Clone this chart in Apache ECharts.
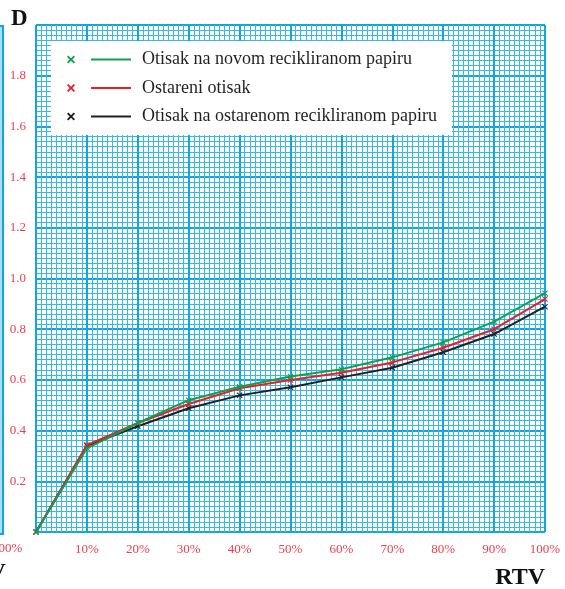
<!DOCTYPE html>
<html>
<head>
<meta charset="utf-8">
<script src="https://cdn.jsdelivr.net/npm/echarts@6/dist/echarts.min.js"></script>
<style>
html,body{margin:0;padding:0;background:#fff;}
#chart{width:565px;height:589px;}
</style>
</head>
<body>
<div id="chart"></div>
<script>
// RTV (%) categories
const rtv = [0, 10, 20, 30, 40, 50, 60, 70, 80, 90, 100];
// Optical density D
const novomReciklirani = [0, 0.33, 0.43, 0.52, 0.573, 0.613, 0.642, 0.689, 0.748, 0.830, 0.942];
const ostareniOtisak   = [0, 0.343, 0.43, 0.505, 0.567, 0.600, 0.628, 0.669, 0.727, 0.800, 0.919];
const ostarenReciklirani = [0, 0.34, 0.417, 0.488, 0.539, 0.571, 0.610, 0.648, 0.709, 0.781, 0.889];
const seriesNames = ['Otisak na novom recikliranom papiru', 'Ostareni otisak', 'Otisak na ostarenom recikliranom papiru'];

const pair = (ys) => rtv.map((x, i) => [x, ys[i]]);
const xMark = 'path://M0,1 L1,0 L4,3 L7,0 L8,1 L5,4 L8,7 L7,8 L4,5 L1,8 L0,7 L3,4 Z';
const legendIcon = 'path://M0,1.3 L1.3,0 L4,2.7 L6.7,0 L8,1.3 L5.3,4 L8,6.7 L6.7,8 L4,5.3 L1.3,8 L0,6.7 L2.7,4 Z M24,3.1 L64,3.1 L64,4.9 L24,4.9 Z';

const serif = '"Liberation Serif", "Times New Roman", serif';
const labelRed = '#e8414c';
const major = '#10a6e2';
const minor = '#38b7eb';

const chart = echarts.init(document.getElementById('chart'), null, {renderer: 'canvas'});
chart.setOption({
  animation: false,
  backgroundColor: '#fff',
  title: [
    {text: 'D', left: 6, top: 3, textStyle: {fontFamily: serif, fontSize: 23, fontWeight: 'bold', color: '#111'}},
    {text: 'RTV', right: 15, top: 561, textStyle: {fontFamily: serif, fontSize: 24, fontWeight: 'bold', color: '#111'}}
  ],
  grid: {left: 36, right: 20, top: 25, bottom: 57, containLabel: false},
  legend: {
    orient: 'vertical',
    left: 51, top: 41,
    backgroundColor: '#fff',
    padding: [8.5, 15, 8.5, 16],
    itemGap: 8.5,
    itemWidth: 64, itemHeight: 8,
    icon: legendIcon,
    itemStyle: {borderWidth: 0},
    data: seriesNames,
    textStyle: {fontFamily: serif, fontSize: 18, color: '#231f20', lineHeight: 20, padding: [0, 0, 0, 6]}
  },
  xAxis: {
    type: 'value', min: 0, max: 100, interval: 10,
    axisLine: {show: false}, axisTick: {show: false},
    axisLabel: {margin: 11, fontFamily: serif, fontSize: 13, color: labelRed,
      formatter: v => v === 0 ? '' : v + '%'},
    splitLine: {show: true, lineStyle: {color: major, width: 2}},
    minorTick: {show: false, splitNumber: 10},
    minorSplitLine: {show: true, lineStyle: {color: minor, width: 1}}
  },
  yAxis: {
    type: 'value', min: 0, max: 2, interval: 0.2,
    axisLine: {show: false}, axisTick: {show: false},
    axisLabel: {margin: 10, fontFamily: serif, fontSize: 13, color: labelRed,
      formatter: v => (v < 0.01 || v > 1.99) ? '' : v.toFixed(1)},
    splitLine: {show: true, lineStyle: {color: major, width: 2}},
    minorTick: {show: false, splitNumber: 10},
    minorSplitLine: {show: true, lineStyle: {color: minor, width: 1}}
  },
  graphic: [
    {type: 'rect', left: -20, top: 25, shape: {width: 22, height: 508}, style: {fill: '#a9e0f6', stroke: major, lineWidth: 2}, z: 0},
    {type: 'text', left: -8, top: 542, style: {text: '100%', fill: labelRed, font: '13px ' + serif}},
    {type: 'text', left: -44, top: 561, style: {text: 'RTV', fill: '#111', font: 'bold 24px ' + serif}}
  ],
  series: [
    {name: seriesNames[2], type: 'line', data: pair(ostarenReciklirani), color: '#231f20',
      symbol: xMark, symbolSize: 6, lineStyle: {width: 2}, z: 3},
    {name: seriesNames[1], type: 'line', data: pair(ostareniOtisak), color: '#ee1c25',
      symbol: xMark, symbolSize: 6, lineStyle: {width: 2}, z: 4},
    {name: seriesNames[0], type: 'line', data: pair(novomReciklirani), color: '#10a04b',
      symbol: xMark, symbolSize: 6, lineStyle: {width: 2}, z: 5}
  ]
});
</script>
</body>
</html>
